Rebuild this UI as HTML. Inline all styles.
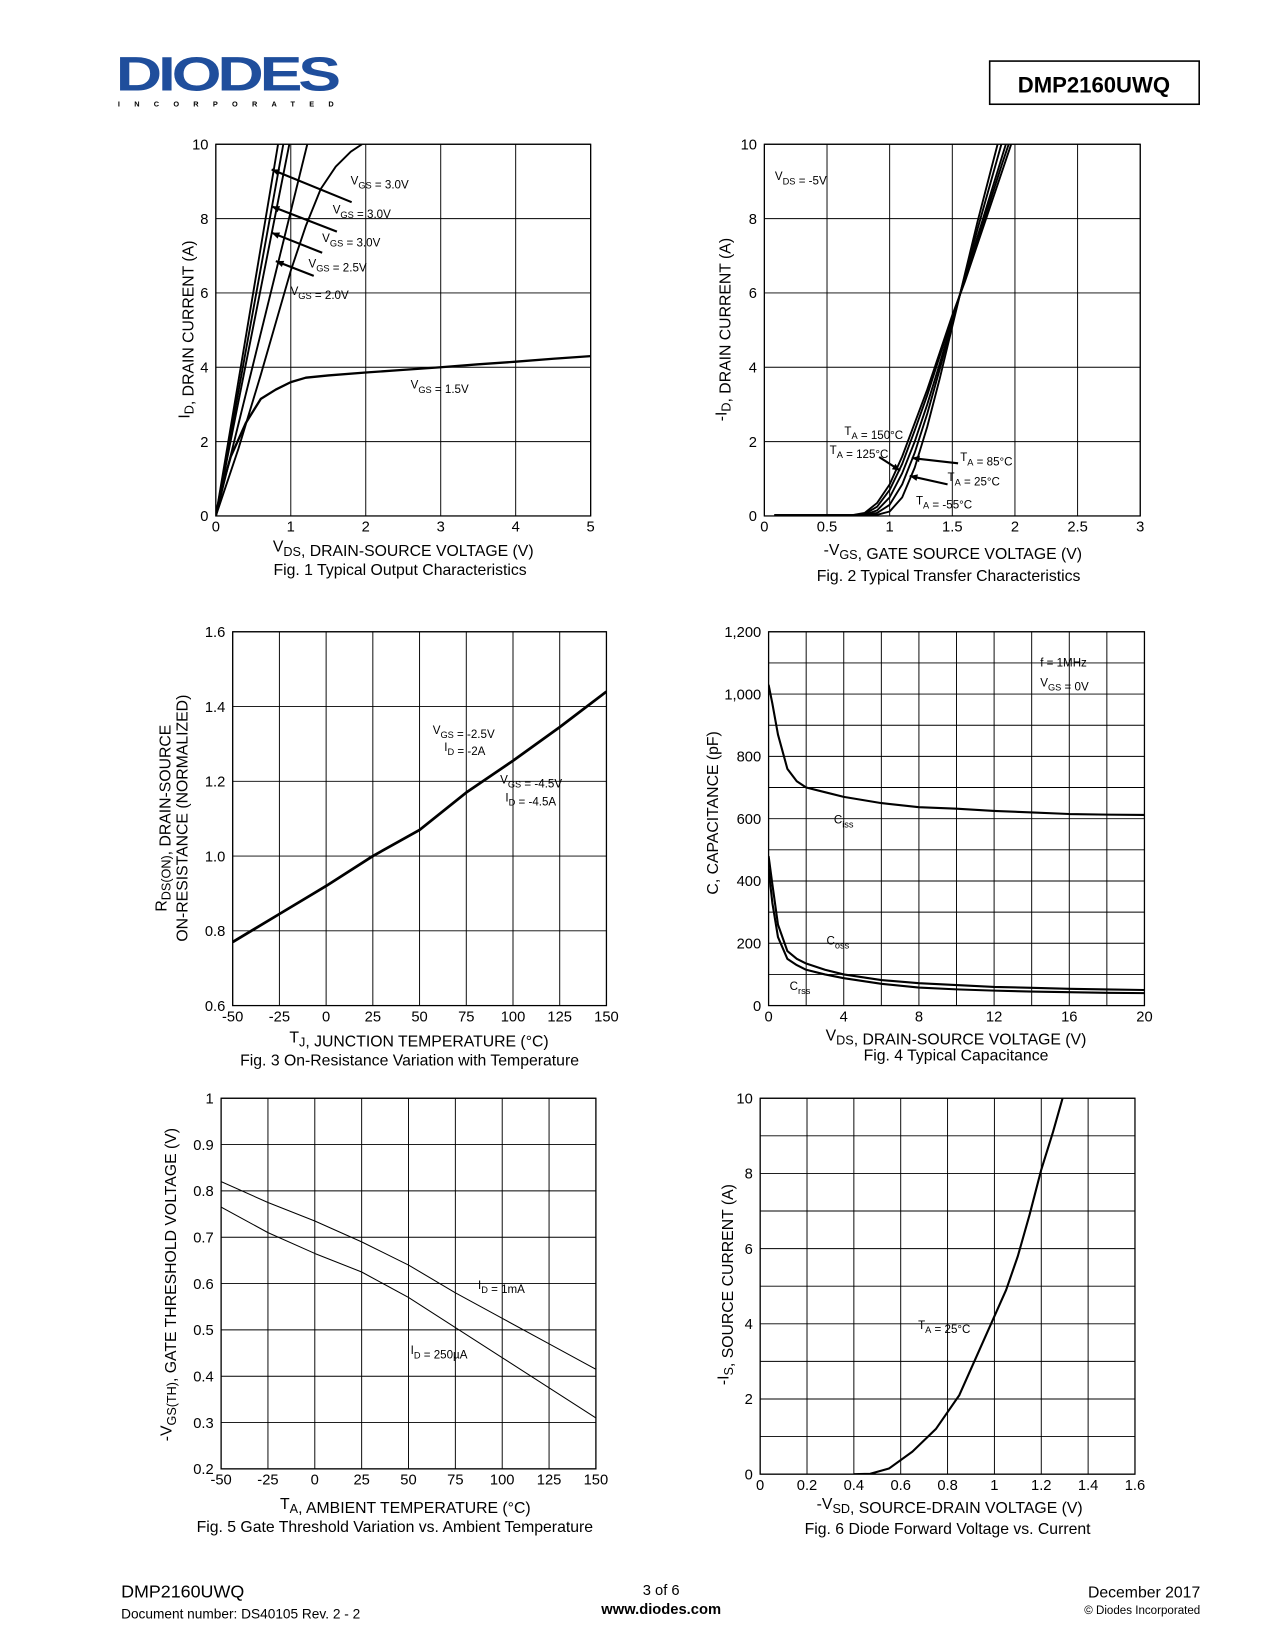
<!DOCTYPE html>
<html><head><meta charset="utf-8"><style>
html,body{margin:0;padding:0;background:#fff}
svg{display:block}
text{font-family:"Liberation Sans",sans-serif;fill:#000}
</style></head><body>
<svg id="pg" width="1275" height="1650" viewBox="0 0 1211 1567" preserveAspectRatio="none" xmlns="http://www.w3.org/2000/svg">
<g>
<text x="110" y="86" font-size="46" font-weight="bold" fill="#1f4e9c" style="fill:#1f4e9c;letter-spacing:-3px" textLength="210" lengthAdjust="spacingAndGlyphs">DIODES</text>
<text x="112" y="101" font-size="7" font-weight="bold" textLength="205" lengthAdjust="spacing">INCORPORATED</text>
</g>
<rect x="940" y="58" width="199" height="41" fill="none" stroke="#000" stroke-width="1.5"/>
<text x="1039" y="88" font-size="21" font-weight="bold" text-anchor="middle">DMP2160UWQ</text>
<g>
<text x="115" y="1517" font-size="17">DMP2160UWQ</text>
<text x="115" y="1537" font-size="13">Document number: DS40105 Rev. 2 - 2</text>
<text x="628" y="1515" font-size="14" text-anchor="middle">3 of 6</text>
<text x="628" y="1533" font-size="14" font-weight="bold" text-anchor="middle">www.diodes.com</text>
<text x="1140" y="1517" font-size="15" text-anchor="end">December 2017</text>
<text x="1140" y="1533" font-size="11" text-anchor="end">© Diodes Incorporated</text>
</g>
</svg>
<script>
// ---------- data ----------
const f1Vgs15X=[0,0.1,0.2,0.4,0.6,0.8,1.0,1.2,1.5,2,2.5,3,3.5,4,4.5,5];
const f1Vgs15Y=[0,0.9,1.6,2.5,3.15,3.4,3.6,3.72,3.78,3.86,3.93,4.0,4.08,4.15,4.23,4.3];
const f1Vgs20X=[0,0.3,0.6,0.8,1.0,1.2,1.4,1.6,1.8,1.95];
const f1Vgs20Y=[0,1.8,3.8,5.2,6.6,7.8,8.8,9.4,9.8,10];
const f1Vgs25X=[0,1.22];const f1Vgs25Y=[0,10];
const f1Vgs30aX=[0,0.98];const f1Vgs30aY=[0,10];
const f1Vgs30bX=[0,0.9];const f1Vgs30bY=[0,10];
const f1Vgs30cX=[0,0.83];const f1Vgs30cY=[0,10];
const f2X=[0.08,0.7,0.8,0.9,1.0,1.1,1.2,1.3,1.4,1.5,1.6,1.7,1.8,1.9,2.0];
const f2T150=[0.02,0.02,0.08,0.35,0.85,1.6,2.5,3.4,4.4,5.4,6.3,7.3,8.3,9.3,10.3];
const f2T125=[0.02,0.02,0.05,0.25,0.7,1.4,2.3,3.25,4.3,5.35,6.35,7.4,8.45,9.5,10.5];
const f2T85=[0.02,0.02,0.03,0.15,0.5,1.15,2.0,3.0,4.1,5.25,6.4,7.5,8.6,9.7,10.8];
const f2T25=[0.02,0.02,0.02,0.08,0.3,0.85,1.7,2.75,3.95,5.2,6.45,7.7,8.9,10.1,11];
const f2Tm55=[0.02,0.02,0.02,0.03,0.12,0.5,1.3,2.4,3.7,5.1,6.5,7.9,9.2,10.5,11.5];
const f3X=[-50,-25,0,25,50,75,100,125,150];
const f3Y=[0.77,0.845,0.92,1.0,1.07,1.17,1.255,1.345,1.44];
const f4X=[0,0.2,0.5,1,1.5,2,3,4,6,8,10,12,14,16,18,20];
const f4Ciss=[1030,970,870,760,720,700,685,670,650,637,632,625,620,615,613,612];
const f4Coss=[480,390,260,175,150,135,115,100,82,72,66,60,57,54,52,50];
const f4Crss=[440,330,220,150,130,115,100,88,70,58,52,48,45,43,41,40];
const f5X=[-50,-25,0,25,50,75,100,125,150];
const f5I1m=[0.82,0.775,0.735,0.69,0.64,0.58,0.525,0.47,0.415];
const f5I250=[0.765,0.71,0.665,0.625,0.57,0.505,0.44,0.375,0.31];
const f6X=[0.4,0.47,0.55,0.65,0.75,0.85,0.95,1.05,1.1,1.15,1.2,1.25,1.3];
const f6Y=[0,0.01,0.15,0.6,1.2,2.1,3.5,4.9,5.8,6.9,8.1,9.1,10.2];

const svg=document.getElementById('pg');const NS='http://www.w3.org/2000/svg';
function mk(tag,at,parent){const e=document.createElementNS(NS,tag);for(const k in at)e.setAttribute(k,at[k]);(parent||svg).appendChild(e);return e;}
function txt(parent,x,y,s,size,anchor,extra){const t=mk('text',Object.assign({x:x,y:y,'font-size':size||14,'text-anchor':anchor||'middle'},extra||{}),parent);t.innerHTML=s;return t;}
function chart(name,L,T,R,B,x0,x1,y0,y1,vx,hy,xt,yt,xfmt,yfmt){
  const g=mk('g',{});
  
  
  const sx=v=>L+(v-x0)/(x1-x0)*(R-L),sy=v=>B-(v-y0)/(y1-y0)*(B-T);
  for(let v=x0;v<=x1+1e-9;v+=vx)mk('line',{x1:sx(v),x2:sx(v),y1:T,y2:B,stroke:'#000','stroke-width':0.9},g);
  for(let v=y0;v<=y1+1e-9;v+=hy)mk('line',{x1:L,x2:R,y1:sy(v),y2:sy(v),stroke:'#000','stroke-width':0.9},g);
  mk('rect',{x:L,y:T,width:R-L,height:B-T,fill:'none',stroke:'#000','stroke-width':1.2},g);
  const ax=mk('g',{},g);
  
  
  xt.forEach(v=>txt(ax,sx(v),B+15,xfmt?xfmt(v):v,14));
  const ay=mk('g',{},g);
  
  
  yt.forEach(v=>txt(ay,L-7,sy(v)+5,yfmt?yfmt(v):v,14,'end'));
  const clipId=name+'-clip';const cp=mk('clipPath',{id:clipId},g);mk('rect',{x:L,y:T,width:R-L,height:B-T},cp);
  return {g,sx,sy,line(xs,ys,nm,w,col){const p=mk('polyline',{points:xs.map((x,i)=>sx(x)+','+sy(ys[i])).join(' '),fill:'none',stroke:col||'#000','stroke-width':w||2.2,'stroke-linejoin':'round','clip-path':'url(#'+clipId+')'},g);return p;}};
}
function arrow(g,x1,y1,x2,y2){mk('line',{x1:x1,y1:y1,x2:x2,y2:y2,stroke:'#000','stroke-width':2},g);const a=Math.atan2(y2-y1,x2-x1),s=8;mk('polygon',{points:`${x2},${y2} ${x2-s*Math.cos(a-0.4)},${y2-s*Math.sin(a-0.4)} ${x2-s*Math.cos(a+0.4)},${y2-s*Math.sin(a+0.4)}`,fill:'#000'},g);}
function lbl(g,x,y,s,size){const t=txt(g,x,y,s,size||11,'start');return t;}
const sub=s=>`<tspan font-size="0.8em" dy="4">${s}</tspan><tspan dy="-4"></tspan>`;

// Fig1
const c1=chart('fig1-output-chart',205,137,561,490,0,5,0,10,1,2,[0,1,2,3,4,5],[0,2,4,6,8,10]);
c1.line(f1Vgs15X,f1Vgs15Y,'curve-vgs-1.5v');c1.line(f1Vgs20X,f1Vgs20Y,'curve-vgs-2.0v',1.8);
c1.line(f1Vgs25X,f1Vgs25Y,'curve-vgs-2.5v',1.8);c1.line(f1Vgs30aX,f1Vgs30aY,'curve-vgs-3.0v-a',1.8);
c1.line(f1Vgs30bX,f1Vgs30bY,'curve-vgs-3.0v-b',1.8);c1.line(f1Vgs30cX,f1Vgs30cY,'curve-vgs-3.0v-c',1.8);
[[258,161,334,192,333,175],[258,196,320,220,316,203],[258,221,306,240,306,230],[262,248,298,262,293,254]].forEach(a=>{arrow(c1.g,a[2],a[3],a[0],a[1]);});
lbl(c1.g,333,175,'V'+sub('GS')+' = 3.0V');lbl(c1.g,316,203,'V'+sub('GS')+' = 3.0V');lbl(c1.g,306,230,'V'+sub('GS')+' = 3.0V');lbl(c1.g,293,254,'V'+sub('GS')+' = 2.5V');lbl(c1.g,276,280,'V'+sub('GS')+' = 2.0V');lbl(c1.g,390,369,'V'+sub('GS')+' = 1.5V');
txt(svg,383,524,'V'+sub('DS')+', DRAIN-SOURCE VOLTAGE (V)',15);
txt(svg,380,546,'Fig. 1 Typical Output Characteristics',15);
txt(svg,0,0,'I'+sub('D')+', DRAIN CURRENT (A)',15,'middle',{transform:'translate(180,313) rotate(-90)'});

// Fig2
const c2=chart('fig2-transfer-chart',726,137,1083,490,0,3,0,10,0.5,2,[0,0.5,1,1.5,2,2.5,3],[0,2,4,6,8,10]);
c2.line(f2X,f2T150,'curve-ta-150c',1.8);c2.line(f2X,f2T125,'curve-ta-125c',1.8);c2.line(f2X,f2T85,'curve-ta-85c',1.8);c2.line(f2X,f2T25,'curve-ta-25c',1.8);c2.line(f2X,f2Tm55,'curve-ta-m55c',1.8);
lbl(c2.g,736,171,'V'+sub('DS')+' = -5V');lbl(c2.g,802,413,'T'+sub('A')+' = 150°C');lbl(c2.g,788,431,'T'+sub('A')+' = 125°C');lbl(c2.g,912,438,'T'+sub('A')+' = 85°C');lbl(c2.g,900,457,'T'+sub('A')+' = 25°C');lbl(c2.g,870,479,'T'+sub('A')+' = -55°C');
arrow(c2.g,835,434,855,447);arrow(c2.g,910,440,866,435);arrow(c2.g,900,460,864,452);
txt(svg,905,527,'-V'+sub('GS')+', GATE SOURCE VOLTAGE (V)',15);
txt(svg,901,552,'Fig. 2 Typical Transfer Characteristics',15);
txt(svg,0,0,'-I'+sub('D')+', DRAIN CURRENT (A)',15,'middle',{transform:'translate(690,313) rotate(-90)'});

// Fig3
const c3=chart('fig3-on-resistance-chart',221,600,576,955,-50,150,0.6,1.6,25,0.2,[-50,-25,0,25,50,75,100,125,150],[0.6,0.8,1.0,1.2,1.4,1.6],null,v=>v.toFixed(1));
c3.line(f3X,f3Y,'curve-rdson',2.6);
lbl(c3.g,411,697,'V'+sub('GS')+' = -2.5V');lbl(c3.g,422,713,'I'+sub('D')+' = -2A');lbl(c3.g,475,744,'V'+sub('GS')+' = -4.5V');lbl(c3.g,480,761,'I'+sub('D')+' = -4.5A');
txt(svg,398,990,'T'+sub('J')+', JUNCTION TEMPERATURE (°C)',15);
txt(svg,389,1012,'Fig. 3 On-Resistance Variation with Temperature',15);
const y3=txt(svg,0,0,'R'+sub('DS(ON)')+', DRAIN-SOURCE',15,'middle',{transform:'translate(158,777) rotate(-90)'});
txt(svg,0,0,'ON-RESISTANCE (NORMALIZED)',15,'middle',{transform:'translate(178,777) rotate(-90)'});

// Fig4
const c4=chart('fig4-capacitance-chart',730,600,1087,955,0,20,0,1200,2,100,[0,4,8,12,16,20],[0,200,400,600,800,1000,1200],null,v=>v>=1000?v.toLocaleString('en-US'):v);
c4.line(f4X,f4Ciss,'curve-ciss',2);c4.line(f4X,f4Coss,'curve-coss',2);c4.line(f4X,f4Crss,'curve-crss',2);
lbl(c4.g,988,633,'f = 1MHz');lbl(c4.g,988,652,'V'+sub('GS')+' = 0V');lbl(c4.g,792,782,'C'+sub('iss'));lbl(c4.g,785,897,'C'+sub('oss'));lbl(c4.g,750,940,'C'+sub('rss'));
txt(svg,908,988,'V'+sub('DS')+', DRAIN-SOURCE VOLTAGE (V)',15);
txt(svg,908,1007,'Fig. 4 Typical Capacitance',15);
txt(svg,0,0,'C, CAPACITANCE (pF)',15,'middle',{transform:'translate(682,772) rotate(-90)'});

// Fig5
const c5=chart('fig5-threshold-chart',210,1043,566,1395,-50,150,0.2,1.0,25,0.1,[-50,-25,0,25,50,75,100,125,150],[0.2,0.3,0.4,0.5,0.6,0.7,0.8,0.9,1],null,v=>v===1?'1':v.toFixed(1));
c5.line(f5X,f5I1m,'curve-id-1ma',1);c5.line(f5X,f5I250,'curve-id-250ua',1);
lbl(c5.g,454,1224,'I'+sub('D')+' = 1mA');lbl(c5.g,390,1286,'I'+sub('D')+' = 250µA');
txt(svg,385,1433,'T'+sub('A')+', AMBIENT TEMPERATURE (°C)',15);
txt(svg,375,1455,'Fig. 5 Gate Threshold Variation vs. Ambient Temperature',15);
txt(svg,0,0,'-V'+sub('GS(TH)')+', GATE THRESHOLD VOLTAGE (V)',15,'middle',{transform:'translate(163,1220) rotate(-90)'});

// Fig6
const c6=chart('fig6-diode-chart',722,1043,1078,1400,0,1.6,0,10,0.2,1,[0,0.2,0.4,0.6,0.8,1,1.2,1.4,1.6],[0,2,4,6,8,10],v=>v===0||v===1?String(v):v.toFixed(1));
c6.line(f6X,f6Y,'curve-ta-25c',2);
lbl(c6.g,872,1262,'T'+sub('A')+' = 25°C');
txt(svg,902,1433,'-V'+sub('SD')+', SOURCE-DRAIN VOLTAGE (V)',15);
txt(svg,900,1457,'Fig. 6 Diode Forward Voltage vs. Current',15);
txt(svg,0,0,'-I'+sub('S')+', SOURCE CURRENT (A)',15,'middle',{transform:'translate(692,1220) rotate(-90)'});
</script>
</body></html>
